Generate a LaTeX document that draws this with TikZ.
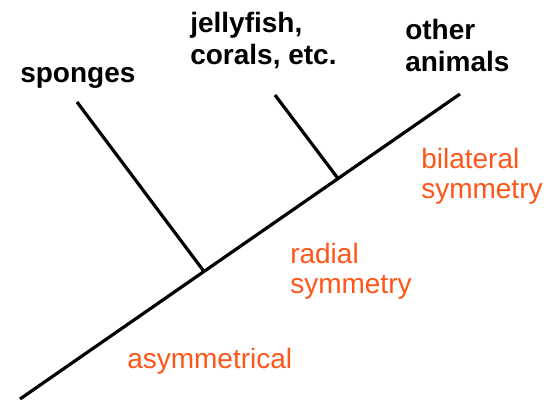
\documentclass[tikz,border=0pt]{standalone}
\usepackage{fontspec}
\setmainfont{Liberation Sans}
\usepackage{tikz}
\definecolor{traitorange}{RGB}{255,85,25}

\begin{document}
\begin{tikzpicture}[
  x=0.75pt, y=-0.75pt,
  branch/.style={draw, line width=2.4pt},
  taxon/.style={font=\fontsize{21}{24}\selectfont\bfseries, align=left, anchor=base west, inner sep=0pt},
  trait/.style={font=\fontsize{21}{22.5}\selectfont, text=traitorange, align=left, anchor=base west, inner sep=0pt}
]
\useasboundingbox (0,0) rectangle (548,399);
% backbone and split points
\coordinate (root) at (20,399);
\coordinate (tip) at (460,94);
\coordinate (split1) at (204,271.5);
\coordinate (split2) at (338,178.5);
\coordinate (leaf1) at (77,102);
\coordinate (leaf2) at (275,95);

\draw[branch] (root) -- (tip);
\draw[branch] (split1) -- (leaf1);
\draw[branch] (split2) -- (leaf2);

% taxa (base = last line)
\node[taxon] (sponges) at (20,83) {sponges};
\node[taxon] (jelly) at (190,65) {jellyfish,\\corals, etc.};
\node[taxon] (other) at (405,72) {other\\animals};

% traits
\node[trait] (bilat) at (421,198) {bilateral\\symmetry};
\node[trait] (radial) at (290,293) {radial\\symmetry};
\node[trait] (asym) at (127,368) {asymmetrical};
\end{tikzpicture}
\end{document}
